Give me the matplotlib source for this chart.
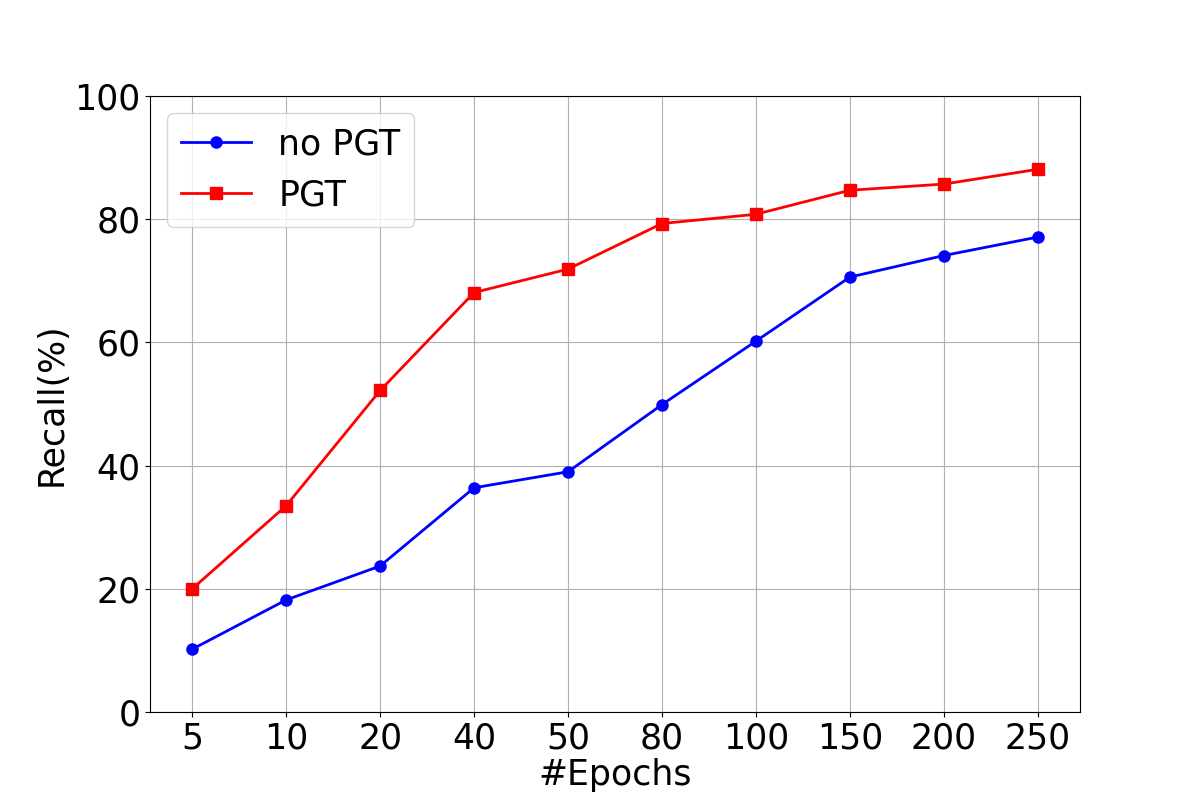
import numpy as np
import matplotlib
matplotlib.use('Agg')
import matplotlib.pyplot as plt

epochs = ['5', '10', '20', '40', '50', '80', '100', '150', '200', '250']
no_pgt = [10.2, 18.2, 23.7, 36.4, 39.0, 49.9, 60.2, 70.6, 74.1, 77.1]
pgt = [20.0, 33.5, 52.2, 68.1, 71.9, 79.3, 80.8, 84.7, 85.7, 88.1]

fig, ax = plt.subplots(figsize=(12, 8), dpi=100)
x = np.arange(len(epochs))
ax.plot(x, no_pgt, color='blue', marker='o', markersize=8, linewidth=2, label='no PGT')
ax.plot(x, pgt, color='red', marker='s', markersize=8, linewidth=2, label='PGT')

ax.set_xticks(x)
ax.set_xticklabels(epochs)
ax.set_ylim(0, 100)
ax.grid(True)
ax.tick_params(labelsize=25)
ax.set_xlabel('#Epochs', fontsize=25, labelpad=2)
ax.set_ylabel('Recall(%)', fontsize=25)
ax.legend(fontsize=25, loc='upper left')

plt.savefig('out.png')
